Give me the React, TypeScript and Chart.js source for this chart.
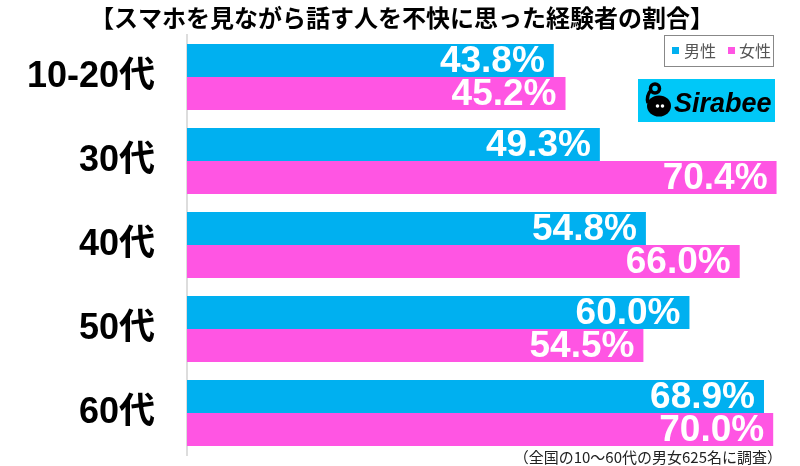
import React, { useEffect, useRef } from "react";
import { Chart, registerables } from "chart.js";

Chart.register(...registerables);

const categories = ["10-20代", "30代", "40代", "50代", "60代"];
const maleValues = [43.8, 49.3, 54.8, 60.0, 68.9];
const femaleValues = [45.2, 70.4, 66.0, 54.5, 70.0];
const seriesNames = ["男性", "女性"];
const titleText = "【スマホを見ながら話す人を不快に思った経験者の割合】";
const noteText = "（全国の10～60代の男女625名に調査）";
const BLUE = "#00B0F0";
const PINK = "#FF55E3";
const LOGO = "#00C8F8";

const JP = "'Noto Sans CJK JP', 'Liberation Sans', sans-serif";
const NUM = "'Liberation Sans', 'Noto Sans CJK JP', sans-serif";

const decorPlugin = {
  id: "decor",
  afterDatasetsDraw(chart: any) {
    const ctx = chart.ctx;
    ctx.save();
    // value labels
    chart.data.datasets.forEach((ds: any, di: number) => {
      const meta = chart.getDatasetMeta(di);
      meta.data.forEach((bar: any, i: number) => {
        const v = ds.data[i];
        ctx.font = `bold 37px ${NUM}`;
        ctx.fillStyle = "#ffffff";
        ctx.textAlign = "right";
        ctx.textBaseline = "middle";
        ctx.fillText(v.toFixed(1) + "%", bar.x - 9, bar.y + 1);
      });
    });
    // title
    ctx.fillStyle = "#000";
    ctx.font = `bold 24px ${JP}`;
    ctx.textAlign = "center";
    ctx.textBaseline = "middle";
    ctx.fillText(titleText, 402, 18);
    // legend box
    ctx.strokeStyle = "#888";
    ctx.lineWidth = 1;
    ctx.fillStyle = "#fff";
    ctx.fillRect(664.5, 35.5, 109, 31);
    ctx.strokeRect(664.5, 35.5, 109, 31);
    ctx.fillStyle = BLUE;
    ctx.fillRect(672, 47, 7, 7);
    ctx.fillStyle = PINK;
    ctx.fillRect(728, 47, 7, 7);
    ctx.fillStyle = "#555";
    ctx.font = `16px ${JP}`;
    ctx.textAlign = "left";
    ctx.fillText(seriesNames[0], 684, 51);
    ctx.fillText(seriesNames[1], 739, 51);
    // logo
    ctx.fillStyle = LOGO;
    ctx.fillRect(638, 79, 137, 43);
    ctx.fillStyle = "#000";
    ctx.beginPath();
    ctx.ellipse(659, 106, 12, 10.5, 0, 0, Math.PI * 2);
    ctx.fill();
    ctx.strokeStyle = "#000";
    ctx.lineWidth = 3.5;
    ctx.beginPath();
    ctx.arc(655, 88.5, 4.5, 0, Math.PI * 2);
    ctx.stroke();
    ctx.beginPath();
    ctx.moveTo(651, 90);
    ctx.quadraticCurveTo(646, 96, 648, 103);
    ctx.stroke();
    ctx.fillStyle = "#fff";
    ctx.beginPath();
    ctx.arc(657.5, 106, 1.8, 0, Math.PI * 2);
    ctx.arc(662.5, 106, 1.8, 0, Math.PI * 2);
    ctx.fill();
    ctx.fillStyle = "#000";
    ctx.font = `italic bold 27px ${NUM}`;
    ctx.textBaseline = "alphabetic";
    ctx.textAlign = "left";
    ctx.fillText("Sirabee", 674, 112);
    // footnote
    ctx.fillStyle = "#222";
    ctx.font = `15px ${JP}`;
    ctx.textAlign = "right";
    ctx.textBaseline = "middle";
    ctx.fillText(noteText, 782, 457);
    ctx.restore();
  },
};

export default function App() {
  const ref = useRef<HTMLCanvasElement>(null);
  useEffect(() => {
    if (!ref.current) return;
    const chart = new Chart(ref.current, {
      type: "bar",
      data: {
        labels: categories,
        datasets: [
          { label: seriesNames[0], data: maleValues, backgroundColor: BLUE, categoryPercentage: 0.786, barPercentage: 1 },
          { label: seriesNames[1], data: femaleValues, backgroundColor: PINK, categoryPercentage: 0.786, barPercentage: 1 },
        ],
      },
      options: {
        indexAxis: "y",
        animation: false,
        responsive: false,
        maintainAspectRatio: false,
        layout: { padding: { top: 35, bottom: 11, left: 0, right: 0 } },
        plugins: { legend: { display: false }, tooltip: { enabled: false } },
        scales: {
          x: { display: false, min: 0, max: 73.2 },
          y: {
            afterFit: (s: any) => {
              s.width = 187;
              s.paddingTop = 0;
              s.paddingBottom = 0;
            },
            grid: { display: false, drawTicks: false },
            border: { display: true, color: "#dddddd", width: 2 },
            ticks: {
              padding: 32,
              color: "#000",
              font: { family: NUM, weight: "bold", size: 36 },
            },
          },
        },
      },
      plugins: [decorPlugin],
    } as any);
    return () => chart.destroy();
  }, []);
  return (
    <div style={{ position: "fixed", left: 0, top: 0, width: 800, height: 466, background: "#fff" }}>
      <canvas ref={ref} width={800} height={466} style={{ width: 800, height: 466 }} />
    </div>
  );
}
